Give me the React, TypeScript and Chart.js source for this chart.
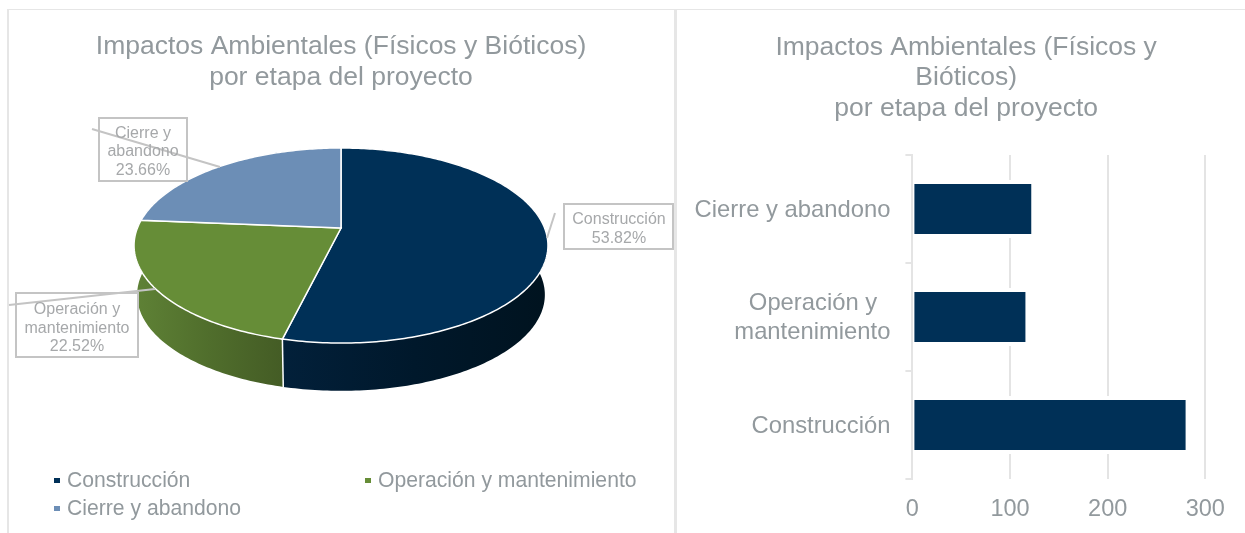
import React, { useEffect, useRef } from "react";
import { Chart, registerables } from "chart.js";

Chart.register(...registerables);

const FONT = "'Liberation Sans', Arial, sans-serif";
const TITLE_COLOR = "#92999D";
const TEXT_COLOR = "#92999D";
const LABEL_COLOR = "#A6A8AA";
const LINE_COLOR = "#C4C4C4";
const GRID_COLOR = "#E4E4E4";

const pieCategories = ["Construcción", "Operación y mantenimiento", "Cierre y abandono"];
const piePercentages = [53.82, 22.52, 23.66];
const pieColors = ["#003057", "#668D37", "#6C8EB6"];
const pieSideStops = [
  ["#02203A", "#00182B", "#00131F"],
  ["#5F8236", "#506E2C", "#445C25"],
  ["#56729A", "#4C6588", "#435A79"],
];

const barCategories = ["Cierre y abandono", "Operación y mantenimiento", "Construcción"];
const barValues = [122, 116, 280];
const barTicks = [0, 100, 200, 300];

const pieTitle = ["Impactos Ambientales (Físicos y Bióticos)", "por etapa del proyecto"];
const barTitle = ["Impactos Ambientales (Físicos y", "Bióticos)", "por etapa del proyecto"];

const TILT = { rx: 203.6, ry: 94.4, k: 0.1795, depth: 49.5, shrink: 0.985 };

const calloutStyle = [
  { box: [564, 204, 109, 45], text: 619, lines: [218, 237], leader: [555, 213, 547, 238], wrap: ["Construcción"] },
  { box: [16, 293, 122, 64], text: 77, lines: [308, 327, 345], leader: [9, 305, 155, 289], wrap: ["Operación y", "mantenimiento"] },
  { box: [99, 118, 88, 63], text: 143, lines: [132, 150, 169], leader: [92, 129, 220, 167], wrap: ["Cierre y", "abandono"] },
];
const legendStyle = [
  { x: 67, y: 481 },
  { x: 378, y: 481 },
  { x: 67, y: 509 },
];

function project(cx: number, cy: number, angle: number, shrink = 1, dy = 0) {
  const u = Math.cos(angle);
  const v = Math.sin(angle);
  const w = 1 - TILT.k * v;
  return {
    x: cx + (shrink * TILT.rx * u) / w,
    y: cy + dy + (shrink * TILT.ry * v) / w,
  };
}

function samples(a1: number, a2: number) {
  const n = Math.max(8, Math.ceil((a2 - a1) * 60));
  const out: number[] = [];
  for (let i = 0; i <= n; i++) out.push(a1 + ((a2 - a1) * i) / n);
  return out;
}

const pie3dPlugin = {
  id: "pie3d",
  beforeDatasetDraw(chart: any, args: any) {
    const ctx = chart.ctx;
    const arcs = args.meta.data.map((el: any) =>
      el.getProps(["x", "y", "startAngle", "endAngle"], true)
    );
    ctx.save();
    // sides
    arcs.forEach((arc: any, i: number) => {
      const angles = samples(arc.startAngle, arc.endAngle);
      const top = angles.map((a) => project(arc.x, arc.y, a));
      const bottom = angles.map((a) => project(arc.x, arc.y, a, TILT.shrink, TILT.depth));
      const xs = top.map((p) => p.x);
      const grad = ctx.createLinearGradient(Math.min(...xs), 0, Math.max(...xs), 0);
      const stops = pieSideStops[i];
      stops.forEach((c, s) => grad.addColorStop(s / (stops.length - 1), c));
      ctx.beginPath();
      top.forEach((p, idx) => (idx ? ctx.lineTo(p.x, p.y) : ctx.moveTo(p.x, p.y)));
      bottom.reverse().forEach((p) => ctx.lineTo(p.x, p.y));
      ctx.closePath();
      ctx.fillStyle = grad;
      ctx.fill();
    });
    // white seams between sides
    ctx.strokeStyle = "#FFFFFF";
    ctx.lineWidth = 1.5;
    arcs.forEach((arc: any) => {
      const p = project(arc.x, arc.y, arc.endAngle);
      const q = project(arc.x, arc.y, arc.endAngle, TILT.shrink, TILT.depth);
      ctx.beginPath();
      ctx.moveTo(p.x, p.y);
      ctx.lineTo(q.x, q.y);
      ctx.stroke();
    });
    // top faces
    arcs.forEach((arc: any, i: number) => {
      const angles = samples(arc.startAngle, arc.endAngle);
      ctx.beginPath();
      ctx.moveTo(arc.x, arc.y);
      angles.forEach((a) => {
        const p = project(arc.x, arc.y, a);
        ctx.lineTo(p.x, p.y);
      });
      ctx.closePath();
      ctx.fillStyle = pieColors[i];
      ctx.fill();
      ctx.strokeStyle = "#FFFFFF";
      ctx.lineWidth = 1.5;
      ctx.stroke();
    });
    ctx.restore();
    return false;
  },
  afterDatasetsDraw(chart: any) {
    const ctx = chart.ctx;
    ctx.save();
    ctx.strokeStyle = LINE_COLOR;
    ctx.lineWidth = 2;
    ctx.font = `16px ${FONT}`;
    ctx.fillStyle = LABEL_COLOR;
    ctx.textAlign = "center";
    ctx.textBaseline = "middle";
    calloutStyle.forEach((c, i) => {
      ctx.beginPath();
      ctx.moveTo(c.leader[0], c.leader[1]);
      ctx.lineTo(c.leader[2], c.leader[3]);
      ctx.stroke();
      ctx.strokeRect(c.box[0], c.box[1], c.box[2], c.box[3]);
      const text = [...c.wrap, `${piePercentages[i].toFixed(2)}%`];
      text.forEach((t, l) => ctx.fillText(t, c.text, c.lines[l] + 1.5));
    });
    // legend
    ctx.font = `21.15px ${FONT}`;
    ctx.textAlign = "left";
    pieCategories.forEach((name, i) => {
      const l = legendStyle[i];
      ctx.fillStyle = pieColors[i];
      ctx.fillRect(l.x - 13, l.y - 3, 6, 5);
      ctx.fillStyle = TEXT_COLOR;
      ctx.fillText(name, l.x, l.y);
    });
    ctx.restore();
  },
};

const barHaloPlugin = {
  id: "barHalo",
  afterLayout(chart: any) {
    // let the long category labels run left of the title's inset
    chart.scales.y.left = 0;
  },
  beforeDatasetDraw(chart: any, args: any) {
    const ctx = chart.ctx;
    ctx.save();
    ctx.fillStyle = "#FFFFFF";
    args.meta.data.forEach((el: any) => {
      const p = el.getProps(["x", "y", "base", "height"], true);
      ctx.fillRect(p.base + 2, p.y - p.height / 2 - 4, p.x - p.base + 2, p.height + 8);
    });
    ctx.restore();
  },
};

export default function App() {
  const pieRef = useRef<HTMLCanvasElement>(null);
  const barRef = useRef<HTMLCanvasElement>(null);

  useEffect(() => {
    const pie = new Chart(pieRef.current as HTMLCanvasElement, {
      type: "pie",
      data: {
        labels: pieCategories,
        datasets: [{ data: piePercentages, backgroundColor: pieColors, borderWidth: 0 }],
      },
      plugins: [pie3dPlugin],
      options: {
        animation: false,
        responsive: false,
        devicePixelRatio: 1,
        layout: { padding: { left: 7, right: 0, top: 0, bottom: 177 } },
        plugins: {
          legend: { display: false },
          tooltip: { enabled: false },
          title: {
            display: true,
            text: pieTitle,
            color: TITLE_COLOR,
            font: { family: FONT, size: 26.5, weight: "normal", lineHeight: 1.14 },
            padding: { top: 32, bottom: 7.6 },
          },
        },
      },
    } as any);

    const bar = new Chart(barRef.current as HTMLCanvasElement, {
      type: "bar",
      data: {
        labels: barCategories,
        datasets: [
          {
            data: barValues,
            backgroundColor: "#003057",
            borderColor: "#FFFFFF",
            borderWidth: { left: 1, right: 0, top: 0, bottom: 0 },
            borderSkipped: false,
            categoryPercentage: 1,
            barPercentage: 50 / 108,
          },
        ],
      },
      plugins: [barHaloPlugin],
      options: {
        indexAxis: "y",
        animation: false,
        responsive: false,
        devicePixelRatio: 1,
        layout: { padding: { left: 50, right: 39.7, top: 0, bottom: 0 } },
        plugins: {
          legend: { display: false },
          tooltip: { enabled: false },
          title: {
            display: true,
            text: barTitle,
            color: TITLE_COLOR,
            font: { family: FONT, size: 26.5, weight: "normal", lineHeight: 1.15 },
            padding: { top: 32, bottom: 31.6 },
          },
        },
        scales: {
          x: {
            min: 0,
            max: 300,
            afterBuildTicks: (s: any) => {
              s.ticks = barTicks.map((value) => ({ value }));
            },
            afterFit: (s: any) => {
              s.height = 54;
            },
            grid: { color: GRID_COLOR, lineWidth: 2, drawTicks: false },
            border: { display: false },
            ticks: {
              color: TEXT_COLOR,
              padding: 16,
              font: { family: FONT, size: 23.5 },
              maxRotation: 0,
            },
          },
          y: {
            afterFit: (s: any) => {
              s.width = 185.4;
            },
            grid: { color: GRID_COLOR, lineWidth: 2, drawOnChartArea: false, tickLength: 7, tickColor: GRID_COLOR },
            border: { display: true, color: GRID_COLOR, width: 2 },
            ticks: {
              color: TEXT_COLOR,
              padding: 15,
              labelOffset: 1,
              font: { family: FONT, size: 23.8, lineHeight: 1.2 },
              callback(this: any, v: any) {
                const label = this.getLabelForValue(v);
                return label === "Operación y mantenimiento"
                  ? ["Operación y\u00a0\u00a0", "mantenimiento"]
                  : label;
              },
            },
          },
        },
      },
    } as any);

    return () => {
      pie.destroy();
      bar.destroy();
    };
  }, []);

  const rule = (style: React.CSSProperties) => (
    <div style={{ position: "absolute", background: "#E6E6E6", ...style }} />
  );

  return (
    <div
      style={{
        position: "fixed",
        left: 0,
        top: 0,
        width: 1245,
        height: 533,
        background: "#FFFFFF",
        overflow: "hidden",
      }}
    >
      {rule({ left: 7, top: 9, width: 1238, height: 1 })}
      {rule({ left: 7, top: 9, width: 2, height: 524 })}
      {rule({ left: 674, top: 9, width: 3, height: 524 })}
      <canvas ref={pieRef} width={675} height={533} style={{ position: "absolute", left: 0, top: 0 }} />
      <canvas ref={barRef} width={568} height={533} style={{ position: "absolute", left: 677, top: 0 }} />
    </div>
  );
}
